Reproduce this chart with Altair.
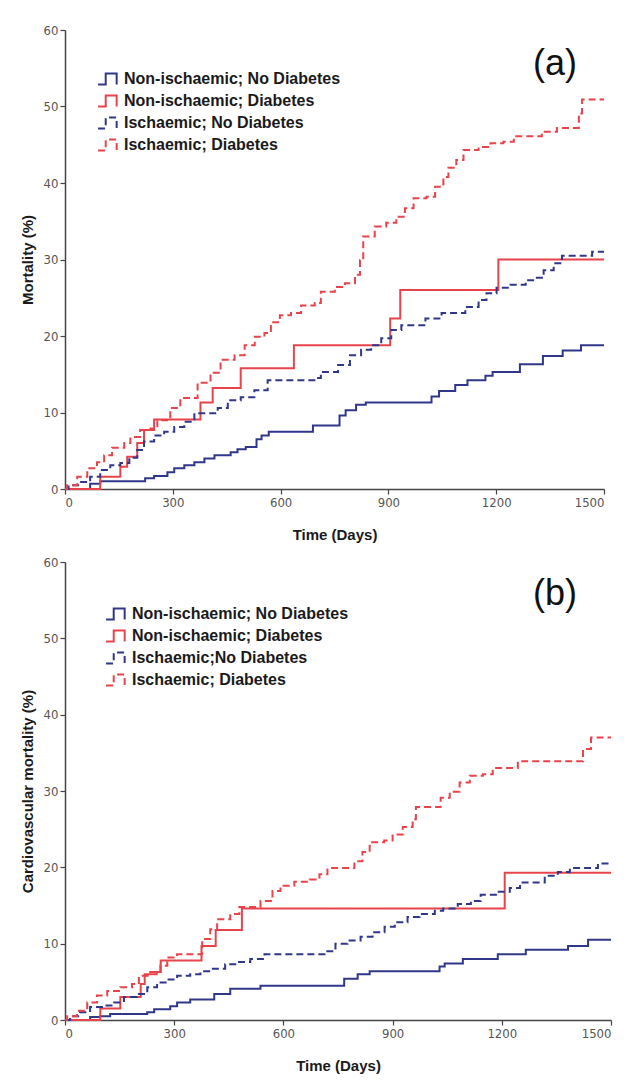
import altair as alt
import pandas as pd

# ---------------- data ----------------
SERIES_A = ["Non-ischaemic; No Diabetes", "Non-ischaemic; Diabetes",
            "Ischaemic; No Diabetes", "Ischaemic; Diabetes"]
SERIES_B = ["Non-ischaemic; No Diabetes", "Non-ischaemic; Diabetes",
            "Ischaemic;No Diabetes", "Ischaemic; Diabetes"]
TAGS = ["(a)", "(b)"]
Y_TITLES = ["Mortality (%)", "Cardiovascular mortality (%)"]
X_TITLE = "Time (Days)"
X_TICKS = [0, 300, 600, 900, 1200, 1500]
Y_TICKS = [0, 10, 20, 30, 40, 50, 60]

# Panel (a): all-cause mortality
a1_t = [0, 70, 98, 223, 248, 285, 304, 332, 360, 388, 416, 461, 480, 503, 533, 547, 567, 690, 764,
        781, 810, 837, 1020, 1041, 1086, 1120, 1170, 1190, 1266, 1330, 1385, 1436, 1500]
a1_v = [0, 0.7, 1.0, 1.4, 1.7, 2.2, 2.7, 3.1, 3.5, 4.0, 4.4, 4.8, 5.2, 5.5, 6.5, 7.0, 7.5, 8.3, 9.6,
        10.3, 11.0, 11.3, 12.1, 12.8, 13.6, 14.2, 14.8, 15.3, 16.3, 17.4, 18.1, 18.8, 18.8]
a2_t = [0, 98, 154, 173, 201, 220, 248, 377, 411, 489, 637, 905, 933, 1206, 1500]
a2_v = [0, 1.6, 2.9, 4.2, 6.0, 7.7, 9.1, 11.3, 13.2, 15.8, 18.8, 22.3, 26.0, 30.0, 30.0]
a3_t = [0, 10, 42, 70, 98, 126, 154, 179, 201, 220, 248, 276, 304, 332, 360, 425, 453, 489, 527,
        564, 698, 712, 760, 793, 824, 852, 880, 908, 936, 1003, 1048, 1114, 1151, 1173, 1201,
        1240, 1282, 1310, 1332, 1360, 1383, 1467, 1500]
a3_v = [0, 0.5, 0.9, 1.6, 2.5, 3.1, 3.4, 4.1, 5.1, 6.2, 7.0, 7.5, 8.1, 8.8, 9.9, 10.6, 11.6, 12.0, 12.9,
        14.2, 14.5, 15.3, 16.2, 17.5, 18.2, 18.8, 19.7, 20.8, 21.4, 22.3, 23.0, 23.8, 24.7, 25.6, 26.3,
        26.7, 27.3, 27.6, 28.6, 29.5, 30.5, 31.0, 31.0]
a4_t = [0, 6, 34, 62, 89, 109, 131, 165, 182, 209, 238, 257, 293, 321, 369, 405, 433, 472, 500, 528,
        555, 573, 598, 629, 657, 695, 712, 751, 779, 807, 821, 830, 862, 894, 922, 946, 970, 1006,
        1030, 1053, 1067, 1089, 1109, 1151, 1184, 1220, 1249, 1327, 1369, 1430, 1439, 1500]
a4_v = [0, 0.5, 1.6, 2.7, 3.5, 4.4, 5.4, 6.0, 6.8, 7.7, 7.9, 9.0, 10.6, 11.9, 13.9, 15.2, 16.9, 17.5,
        18.8, 19.9, 20.4, 21.8, 22.7, 23.0, 24.0, 24.3, 25.8, 26.4, 26.9, 28.0, 29.9, 33.0, 34.3, 34.8,
        35.6, 36.7, 38.0, 38.2, 39.5, 40.8, 42.0, 43.0, 44.3, 44.7, 45.2, 45.4, 46.1, 46.7, 47.2, 49.1,
        50.9, 50.9]

# Panel (b): cardiovascular mortality
b1_t = [0, 69, 96, 124, 226, 245, 289, 308, 344, 410, 454, 537, 767, 804, 837, 1029, 1043, 1093,
        1189, 1266, 1382, 1437, 1500]
b1_v = [0, 0.4, 0.5, 0.8, 1.0, 1.4, 1.8, 2.3, 2.7, 3.4, 4.1, 4.5, 5.4, 6.0, 6.4, 7.0, 7.4, 8.0,
        8.6, 9.2, 9.7, 10.5, 10.5]
b2_t = [0, 97, 152, 208, 219, 252, 263, 375, 414, 486, 1208, 1500]
b2_v = [0, 1.5, 3.0, 4.7, 6.0, 6.3, 7.8, 9.7, 11.8, 14.6, 19.3, 19.3]
b3_t = [0, 14, 41, 69, 107, 135, 162, 198, 226, 253, 281, 308, 344, 372, 399, 440, 473, 509, 548,
        713, 743, 776, 812, 845, 878, 906, 941, 974, 1016, 1039, 1079, 1115, 1142, 1184, 1222,
        1250, 1318, 1354, 1387, 1464, 1500]
b3_v = [0, 0.5, 1.0, 1.7, 1.9, 2.3, 3.0, 3.4, 4.3, 4.9, 5.3, 5.8, 6.0, 6.4, 6.7, 7.3, 7.6, 8.0, 8.6,
        9.0, 10.0, 10.4, 10.9, 11.5, 12.2, 12.8, 13.5, 13.9, 14.3, 14.6, 15.2, 15.6, 16.4, 16.8, 17.3,
        18.0, 18.9, 19.4, 19.9, 20.5, 20.5]
b4_t = [0, 6, 33, 61, 88, 116, 152, 184, 203, 234, 262, 281, 308, 377, 399, 418, 454, 479, 537,
        570, 592, 630, 672, 699, 721, 795, 817, 837, 877, 900, 928, 955, 964, 1032, 1057, 1084,
        1112, 1148, 1175, 1244, 1423, 1445, 1500]
b4_v = [0, 0.5, 1.2, 2.3, 3.2, 3.8, 4.3, 4.7, 5.8, 6.3, 7.1, 8.2, 8.6, 10.6, 11.9, 13.2, 13.9, 14.8,
        15.6, 16.9, 17.6, 18.1, 18.4, 19.1, 19.9, 20.8, 22.0, 23.3, 23.5, 24.3, 25.3, 26.3, 27.9,
        29.1, 29.9, 31.1, 32.0, 32.2, 33.0, 33.9, 35.5, 37.0, 37.0]

# ---------------- styling ----------------
NAVY = "#30378a"
RED = "#e8434b"
COLORS = [NAVY, RED, NAVY, RED]
DASHES = [[1, 0], [1, 0], [7, 4], [7, 4]]
STEP_SYMBOL = "M-1,0.5 L-0.3,0.5 L-0.3,-0.5 L0.7,-0.5 L0.7,0.5"
FONT = "Liberation Sans"
NARROW = "'Liberation Sans Narrow', 'DejaVu Sans Condensed', 'Liberation Sans', sans-serif"


def panel(series, ts, vs, ytitle, tag, w, h, lx, ly, tx, ty):
    rows = []
    for i, (name, t, v) in enumerate(zip(series, ts, vs)):
        for tt, vv in zip(t, v):
            rows.append({"series": name, "order": i, "t": tt, "v": vv})
    df = pd.DataFrame(rows)
    legend = alt.Legend(
        title=None, orient="none", legendX=lx, legendY=ly,
        symbolType=STEP_SYMBOL, symbolSize=480, symbolStrokeWidth=2,
        symbolFillColor="transparent",
        labelFont=FONT, labelFontSize=16, labelFontWeight="bold",
        labelColor="#1a1a1a", labelLimit=0, rowPadding=0, labelOffset=3,
    )
    lines = alt.Chart(df).mark_line(interpolate="step-after", strokeWidth=2).encode(
        x=alt.X("t:Q", scale=alt.Scale(domain=[0, 1500], nice=False),
                axis=alt.Axis(values=X_TICKS, format="d", title=X_TITLE, titlePadding=18)),
        y=alt.Y("v:Q", scale=alt.Scale(domain=[0, 60], nice=False),
                axis=alt.Axis(values=Y_TICKS, format="d", title=ytitle, titlePadding=8)),
        color=alt.Color("series:N", sort=series,
                        scale=alt.Scale(domain=series, range=COLORS), legend=legend),
        strokeDash=alt.StrokeDash("series:N", sort=series,
                                  scale=alt.Scale(domain=series, range=DASHES), legend=legend),
    )
    tagc = alt.Chart(pd.DataFrame({"tag": [tag]})).mark_text(
        font=FONT, fontSize=36, color="#111111", baseline="middle", align="center"
    ).encode(text="tag:N", x=alt.value(tx), y=alt.value(ty))
    return alt.layer(lines, tagc).properties(width=w, height=h)


pa = panel(SERIES_A, [a1_t, a2_t, a3_t, a4_t], [a1_v, a2_v, a3_v, a4_v],
           Y_TITLES[0], TAGS[0], 539, 459, 32, 37, 490, 34)
pb = panel(SERIES_B, [b1_t, b2_t, b3_t, b4_t], [b1_v, b2_v, b3_v, b4_v],
           Y_TITLES[1], TAGS[1], 546, 458, 40, 40, 490, 32)

chart = alt.vconcat(pa, pb, spacing=14).resolve_scale(
    color="independent", strokeDash="independent"
).configure_view(stroke=None).configure_axis(
    grid=False, domainColor="#444444", domainWidth=1.5, tickColor="#444444",
    tickSize=5, tickWidth=1.2, labelFont=NARROW, labelFontSize=13, labelColor="#555555",
    titleFont=FONT, titleFontSize=15, titleFontWeight="bold", titleColor="#1a1a1a",
).properties(padding={"left": 12, "top": 16, "right": 5, "bottom": 5},
             background="white")

chart.save("out.html", embed_options={"renderer": "svg", "actions": False})
